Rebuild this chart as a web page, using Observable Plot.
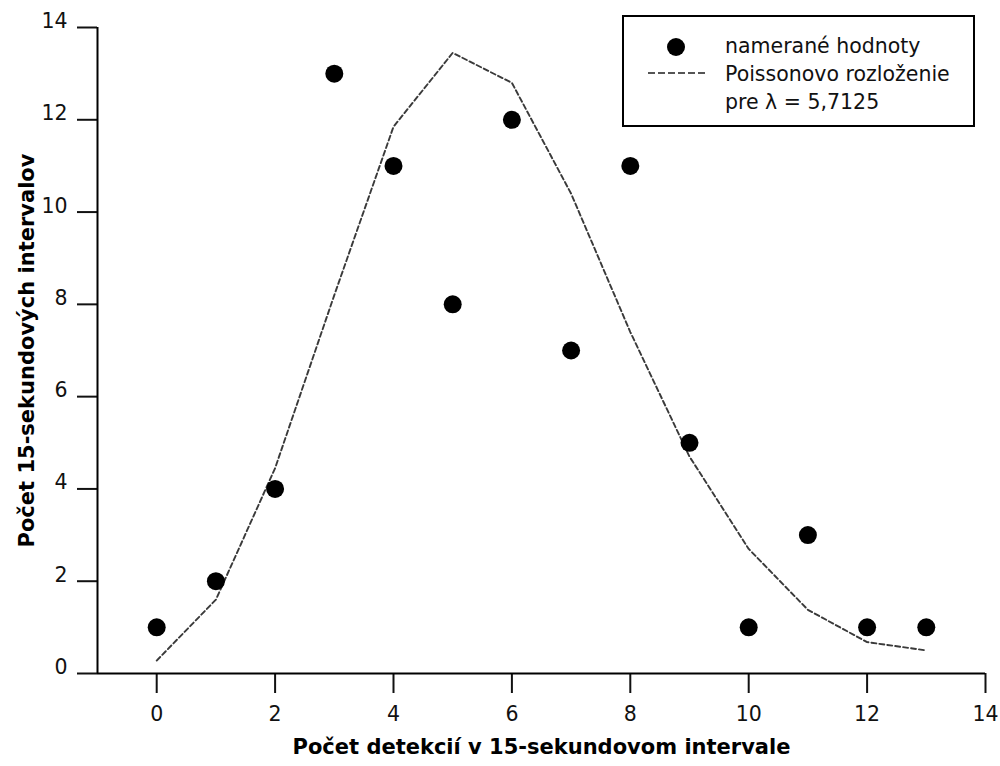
<!DOCTYPE html>
<html>
<head>
<meta charset="utf-8">
<script src="https://cdn.jsdelivr.net/npm/d3@7"></script>
<script src="https://cdn.jsdelivr.net/npm/@observablehq/plot@0.6"></script>
<style>
  html, body { margin: 0; padding: 0; background: #fff; }
  #wrap { position: relative; width: 1000px; height: 766px; font-family: "DejaVu Sans", sans-serif; }
  #legend { position: absolute; left: 622px; top: 15px; width: 349px; height: 108px; border: 2px solid #000; background: #fff; font-size: 20.5px; color: #111; }
  #legend .sym { position: absolute; left: 0; width: 101px; height: 28px; }
  #legend .txt { position: absolute; left: 101px; white-space: nowrap; line-height: 28px; }
</style>
</head>
<body>
<div id="wrap"></div>
<script>
// Data
const counts = [0, 1, 2, 3, 4, 5, 6, 7, 8, 9, 10, 11, 12, 13];
const measured = [1, 2, 4, 13, 11, 8, 12, 7, 11, 5, 1, 3, 1, 1];
const poisson = [0.28, 1.6, 4.45, 8.2, 11.85, 13.45, 12.8, 10.4, 7.4, 4.7, 2.7, 1.38, 0.68, 0.5];
const xTicks = [0, 2, 4, 6, 8, 10, 12, 14];
const yTicks = [0, 2, 4, 6, 8, 10, 12, 14];
const xLabel = "Počet detekcií v 15-sekundovom intervale";
const yLabel = "Počet 15-sekundových intervalov";
const legendLabels = ["namerané hodnoty", "Poissonovo rozloženie", "pre λ = 5,7125"];

const rows = counts.map((k, i) => ({k, measured: measured[i], poisson: poisson[i]}));
const font = '"DejaVu Sans", sans-serif';

const chart = Plot.plot({
  width: 1000,
  height: 766,
  marginLeft: 97,
  marginRight: 15,
  marginTop: 27,
  marginBottom: 93,
  style: {fontFamily: font, fontSize: "20.5px", color: "#111", background: "#fff"},
  x: {domain: [-1, 14]},
  y: {domain: [0, 14]},
  marks: [
    Plot.axisX({ticks: xTicks, tickSize: 20, tickPadding: 13, strokeWidth: 2, label: null, tickFormat: d => String(d)}),
    Plot.axisY({ticks: yTicks, tickSize: 20, strokeWidth: 2, label: null, tickFormat: () => ""}),
    Plot.axisY({ticks: yTicks, tickSize: 0, tickPadding: 30, dy: -6, label: null, tickFormat: d => String(d)}),
    Plot.ruleX([-1], {stroke: "#000", strokeWidth: 2}),
    Plot.ruleY([0], {stroke: "#000", strokeWidth: 2}),
    Plot.line(rows, {x: "k", y: "poisson", stroke: "#3a3a3a", strokeWidth: 1.9, strokeDasharray: "5,3"}),
    Plot.dot(rows, {x: "k", y: "measured", r: 9, fill: "#000", stroke: "none"}),
    Plot.text([xLabel], {frameAnchor: "bottom", dy: 80, text: d => d, textAnchor: "middle", fontWeight: "bold", fontSize: 21, fill: "#000"}),
    Plot.text([yLabel], {frameAnchor: "left", dx: -70, rotate: -90, text: d => d, textAnchor: "middle", fontWeight: "bold", fontSize: 21, fill: "#000"})
  ]
});

const wrap = document.getElementById("wrap");
wrap.appendChild(chart);

// Legend overlay
const legend = document.createElement("div");
legend.id = "legend";
legend.innerHTML = `
  <svg class="sym" style="top:16px"><circle cx="52" cy="14" r="9" fill="#000"/></svg>
  <div class="txt" style="top:15px">${legendLabels[0]}</div>
  <svg class="sym" style="top:42px"><line x1="24" x2="82" y1="14" y2="14" stroke="#555" stroke-width="2" stroke-dasharray="7,3"/></svg>
  <div class="txt" style="top:43px">${legendLabels[1]}</div>
  <div class="txt" style="top:71px">${legendLabels[2]}</div>
`;
wrap.appendChild(legend);
</script>
</body>
</html>
